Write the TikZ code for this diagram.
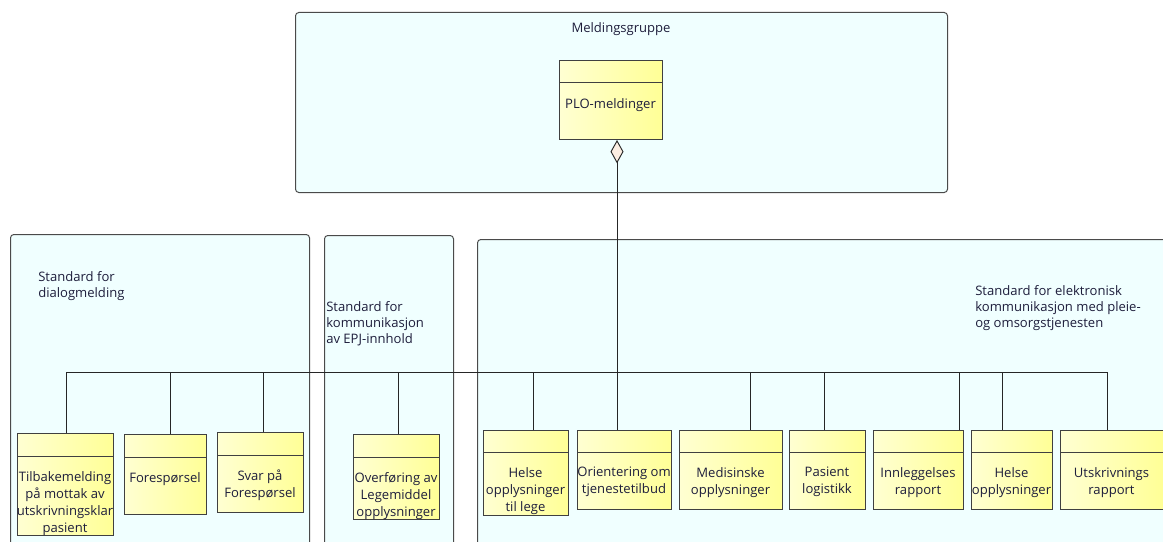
\documentclass[tikz,border=0pt]{standalone}
\usepackage{fontspec}
\setmainfont{Open Sans}
\usetikzlibrary{arrows.meta}

\definecolor{panefill}{HTML}{F0FFFF}
\definecolor{panedraw}{HTML}{4A4A4A}
\definecolor{elemL}{HTML}{FFFFD2}
\definecolor{elemR}{HTML}{FFFF96}
\definecolor{ink}{HTML}{1E1E3C}
\definecolor{diamfill}{HTML}{FCEEE2}

\tikzset{
  pane/.style={draw=panedraw, fill=panefill, rounded corners=2.5pt, line width=0.75pt,
    inner sep=0pt, anchor=north west},
  elem/.style={draw=black!75, left color=elemL, right color=elemR, line width=0.75pt,
    inner sep=0pt, anchor=north west},
  hdr/.style={draw=black!75, line width=0.75pt},
  etext/.style={font=\fontsize{9.8}{12.75}\selectfont, text=ink, align=center,
    inner sep=0pt, anchor=north},
  ptext/.style={font=\fontsize{9.8}{12}\selectfont, text=ink, align=left,
    inner sep=0pt, anchor=north west},
  conn/.style={draw=black!85, line width=0.7pt},
}

% element box: name, x1, y1, x2, y2, header line y, label
\newcommand{\elembox}[7]{%
  \node[elem, minimum width={(#4-#2)*0.75pt}, minimum height={(#5-#3)*0.75pt}] (#1) at (#2,#3) {};
  \draw[hdr] (#2,#6) -- (#4,#6);
  \node[etext] (#1-t) at ({(#2+#4)/2},{#6+15}) {#7};
}

\begin{document}
\begin{tikzpicture}[x=0.75pt, y=-0.75pt]
  \useasboundingbox (0,0) rectangle (1163,542);
  \fill[white] (0,0) rectangle (1163,542);
  \clip (0,0) rectangle (1163,542);

  % group panes
  \node[pane, minimum width={652*0.75pt}, minimum height={180*0.75pt}] (grp) at (295,12) {};
  \node[pane, minimum width={299*0.75pt}, minimum height={400*0.75pt}] (dialog) at (10,234) {};
  \node[pane, minimum width={129*0.75pt}, minimum height={400*0.75pt}] (epj) at (324,235) {};
  \node[pane, minimum width={800*0.75pt}, minimum height={400*0.75pt}] (plopane) at (477,239) {};

  % pane titles
  \node[etext, anchor=base] (grp-t) at (621,33) {Meldingsgruppe};
  \node[ptext] (dialog-t) at (38,271) {Standard for\\dialogmelding};
  \node[ptext] (epj-t) at (326,301) {Standard for\\kommunikasjon\\av EPJ-innhold};
  \node[ptext] (plopane-t) at (975,285) {Standard for elektronisk\\kommunikasjon med pleie-\\og omsorgstjenesten};

  % message group
  \elembox{plo}{559}{60}{662}{139}{83}{PLO-meldinger}

  % dialog messages
  \elembox{tilbake}{17}{433}{113}{535}{456}{Tilbakemelding\\på mottak av\\utskrivningsklar\\pasient}
  \elembox{foresp}{124}{434}{206}{514}{457}{Forespørsel}
  \elembox{svar}{217}{432}{303}{512}{455}{Svar på\\Forespørsel}

  % EPJ content
  \elembox{legemiddel}{353}{434}{439}{519}{457}{Overføring av\\Legemiddel\\opplysninger}

  % PLO messages
  \elembox{helselege}{483}{430}{568}{515}{452}{Helse\\opplysninger\\til lege}
  \elembox{orient}{577}{430}{671}{509}{452}{Orientering om\\tjenestetilbud}
  \elembox{medisin}{679}{430}{782}{509}{452}{Medisinske\\opplysninger}
  \elembox{logistikk}{789}{430}{865}{509}{452}{Pasient\\logistikk}
  \elembox{innlegg}{873}{430}{963}{509}{452}{Innleggelses\\rapport}
  \elembox{helse}{971}{430}{1052}{509}{452}{Helse\\opplysninger}
  \elembox{utskriv}{1060}{430}{1163}{509}{452}{Utskrivnings\\rapport}

  % aggregation trunk and bus
  \coordinate (bus) at (617,372);
  \draw[conn, {Diamond[length=17.5pt, width=9.75pt, fill=diamfill]}-]
    (plo.south -| 617,0) -- (orient.north -| 617,0);

  \draw[conn] (tilbake.north -| 66,0) |- (bus);
  \draw[conn] (foresp.north -| 170,0) |- (bus);
  \draw[conn] (svar.north -| 263,0) |- (bus);
  \draw[conn] (legemiddel.north -| 398,0) |- (bus);
  \draw[conn] (helselege.north -| 533,0) |- (bus);
  \draw[conn] (medisin.north -| 750,0) |- (bus);
  \draw[conn] (logistikk.north -| 824,0) |- (bus);
  \draw[conn] (innlegg.north -| 959,0) |- (bus);
  \draw[conn] (helse.north -| 1002,0) |- (bus);
  \draw[conn] (utskriv.north -| 1107,0) |- (bus);
\end{tikzpicture}
\end{document}
